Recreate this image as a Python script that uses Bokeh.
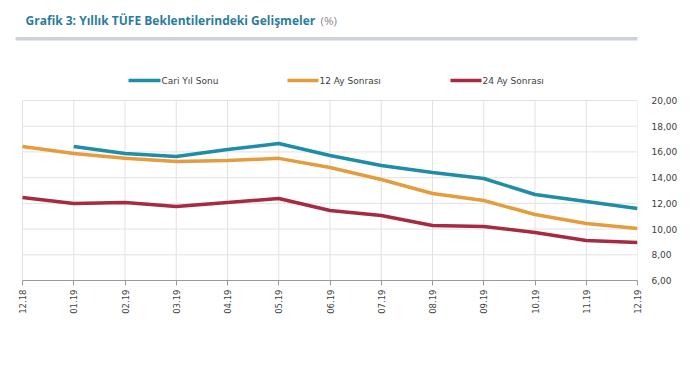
from bokeh.plotting import figure
from bokeh.models import FixedTicker, Range1d
from bokeh.core.properties import value
from bokeh.embed import file_html
from bokeh.resources import INLINE

months = ["12.18", "01.19", "02.19", "03.19", "04.19", "05.19", "06.19",
          "07.19", "08.19", "09.19", "10.19", "11.19", "12.19"]
cari_yil_sonu = [None, 16.42, 15.88, 15.64, 16.19, 16.65, 15.72, 14.94, 14.40, 13.93, 12.69, 12.14, 11.60]
ay12_sonrasi = [16.42, 15.88, 15.50, 15.26, 15.33, 15.50, 14.79, 13.86, 12.77, 12.22, 11.13, 10.43, 10.04]
ay24_sonrasi = [12.46, 11.99, 12.07, 11.76, 12.07, 12.38, 11.44, 11.05, 10.28, 10.20, 9.73, 9.11, 8.96]
y_ticks = [6, 8, 10, 12, 14, 16, 18, 20]
series_names = ["Cari Yıl Sonu", "12 Ay Sonrası", "24 Ay Sonrası"]
colors = ["#1f8ca8", "#e39d3e", "#a62a40"]
title_main = "Grafik 3: Yıllık TÜFE Beklentilerindeki Gelişmeler"
title_unit = "(%)"

FONT = "DejaVu Sans"

# ---- layout constants (pixels of the page) ----
W, H = 690, 377
PLOT_L, PLOT_R = 22, 637      # pixel x of first / last month
PLOT_T, PLOT_B = 100, 280     # pixel y of top / bottom y tick
n = len(months)
ppx = (PLOT_R - PLOT_L) / (n - 1)
ppy = (PLOT_B - PLOT_T) / (y_ticks[-1] - y_ticks[0])


def px_x(px):
    return (px - PLOT_L) / ppx


def px_y(py):
    return y_ticks[-1] + (PLOT_T - py) / ppy


x = list(range(n))
p = figure(width=W, height=H, output_backend="svg", toolbar_location=None,
           x_range=Range1d(px_x(0), n - 1), y_range=Range1d(y_ticks[0], px_y(0)),
           y_axis_location="right", min_border_left=0, min_border_top=0,
           min_border_bottom=H - PLOT_B, min_border_right=W - PLOT_R)
p.outline_line_color = None
p.xgrid.visible = False
p.ygrid.visible = False

GRID = "#e2e2e2"
# grid lines, limited to the plotted span
p.segment(x0=x, y0=[y_ticks[0]] * n, x1=x, y1=[y_ticks[-1]] * n,
          line_color=GRID, line_width=1)
p.segment(x0=[0] * len(y_ticks), y0=y_ticks, x1=[n - 1] * len(y_ticks), y1=y_ticks,
          line_color=GRID, line_width=1)

for vals, c in zip([cari_yil_sonu, ay12_sonrasi, ay24_sonrasi], colors):
    xs = [xi for xi, v in zip(x, vals) if v is not None]
    ys = [v for v in vals if v is not None]
    p.line(xs, ys, line_color=c, line_width=3.5)

p.xaxis.ticker = FixedTicker(ticks=x)
p.xaxis.bounds = (0, n - 1)
p.xaxis.major_label_overrides = {i: m for i, m in enumerate(months)}
p.xaxis.major_label_orientation = 1.5708
p.xaxis.major_label_text_font = FONT
p.xaxis.major_label_text_font_size = "8.5px"
p.xaxis.major_label_text_color = "#404040"
p.xaxis.axis_line_color = "#9a9a9a"
p.xaxis.major_tick_line_color = "#9a9a9a"
p.xaxis.major_tick_out = 5
p.xaxis.major_tick_in = 0
p.xaxis.minor_tick_line_color = None
p.xaxis.major_label_standoff = 4

p.yaxis.ticker = FixedTicker(ticks=y_ticks)
p.yaxis.bounds = (y_ticks[0], y_ticks[-1])
p.yaxis.major_label_overrides = {t: f"{t:.2f}".replace(".", ",") for t in y_ticks}
p.yaxis.major_label_text_font = FONT
p.yaxis.major_label_text_font_size = "9px"
p.yaxis.major_label_text_color = "#404040"
p.yaxis.axis_line_color = None
p.yaxis.major_tick_line_color = None
p.yaxis.minor_tick_line_color = None
p.yaxis.major_label_standoff = 8

# ---- legend (drawn as glyphs above the plotted span) ----
leg_line_px = [(128, 160), (287, 318), (450, 481)]
leg_y = px_y(80)
p.segment(x0=[px_x(a) for a, b in leg_line_px], x1=[px_x(b) for a, b in leg_line_px],
          y0=[leg_y] * 3, y1=[leg_y] * 3, line_color=colors, line_width=3.5)
p.text(x=[px_x(b + 1) for a, b in leg_line_px], y=[leg_y] * 3, text=series_names,
       text_font=value(FONT), text_font_size="9px", text_color="#404040",
       text_baseline="middle", text_align="left")

# ---- title and separator bar ----
p.text(x=[px_x(25)], y=[px_y(20)], text=[title_main],
       text_font=value("Open Sans"), text_font_size="12px", text_font_style="bold",
       text_color="#2b7c9c", text_baseline="middle", text_align="left")
p.text(x=[px_x(320)], y=[px_y(20)], text=[title_unit],
       text_font=value("Open Sans"), text_font_size="11.6px",
       text_color="#8a8a8a", text_baseline="middle", text_align="left")
p.quad(left=[px_x(15)], right=[px_x(660)], top=[px_y(36.5)], bottom=[px_y(40)],
       fill_color="#cdd2da", line_color=None)

open("out.html", "w").write(file_html(p, INLINE))
